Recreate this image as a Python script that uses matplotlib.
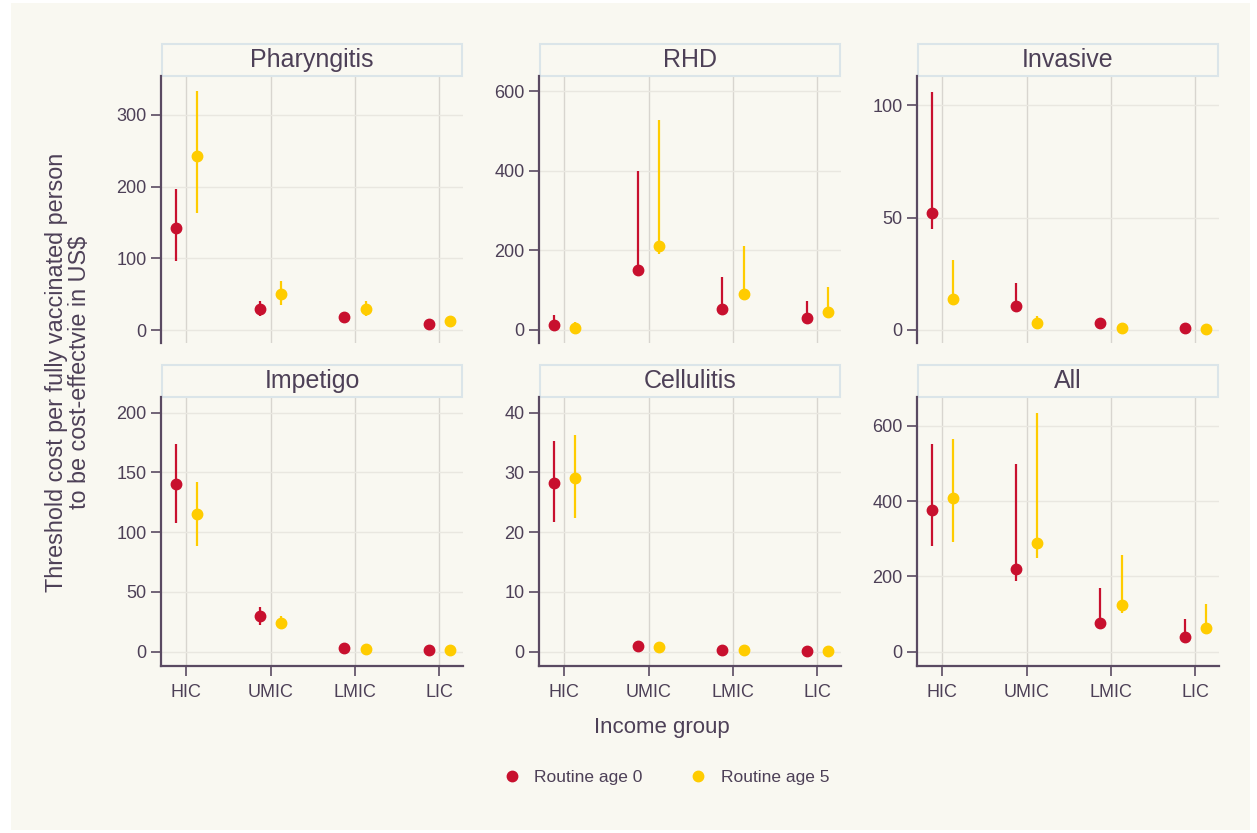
import numpy as np
import matplotlib
matplotlib.use("Agg")
import matplotlib.pyplot as plt
from matplotlib.patches import Rectangle
from matplotlib.lines import Line2D

plt.rcParams["font.family"] = ["Liberation Sans", "DejaVu Sans"]

# --- data ---
GROUPS = ["HIC", "UMIC", "LMIC", "LIC"]
PANELS = ["Pharyngitis", "RHD", "Invasive", "Impetigo", "Cellulitis", "All"]

# routine age 0: point, low, high
age0_mid = {
    "Pharyngitis": [142, 29, 18, 8],
    "RHD":         [12, 150, 53, 30],
    "Invasive":    [52, 10.5, 3, 1],
    "Impetigo":    [140, 30, 3, 1],
    "Cellulitis":  [28.2, 0.9, 0.3, 0.1],
    "All":         [377, 220, 76, 40],
}
age0_lo = {
    "Pharyngitis": [96, 20, 16, 7],
    "RHD":         [8, 148, 51, 28],
    "Invasive":    [45, 10, 2.5, 0.8],
    "Impetigo":    [108, 22, 2.5, 0.8],
    "Cellulitis":  [21.7, 0.8, 0.25, 0.08],
    "All":         [282, 188, 74, 38],
}
age0_hi = {
    "Pharyngitis": [197, 40, 20, 9],
    "RHD":         [38, 400, 133, 73],
    "Invasive":    [106, 21, 3.5, 1.2],
    "Impetigo":    [174, 37, 3.5, 1.2],
    "Cellulitis":  [35.2, 1.0, 0.35, 0.12],
    "All":         [552, 500, 168, 88],
}
# routine age 5
age5_mid = {
    "Pharyngitis": [243, 50, 30, 13],
    "RHD":         [5, 210, 90, 46],
    "Invasive":    [14, 3, 0.8, 0.3],
    "Impetigo":    [115, 24, 2.5, 1],
    "Cellulitis":  [29, 0.8, 0.3, 0.1],
    "All":         [408, 288, 123, 62],
}
age5_lo = {
    "Pharyngitis": [163, 35, 20, 11],
    "RHD":         [0, 190, 88, 44],
    "Invasive":    [13.5, 2.8, 0.6, 0.2],
    "Impetigo":    [88, 19, 2, 0.8],
    "Cellulitis":  [22.3, 0.7, 0.25, 0.08],
    "All":         [292, 248, 103, 60],
}
age5_hi = {
    "Pharyngitis": [333, 68, 40, 15],
    "RHD":         [20, 528, 212, 107],
    "Invasive":    [31, 6, 1, 0.4],
    "Impetigo":    [142, 30, 3, 1.2],
    "Cellulitis":  [36.2, 0.9, 0.35, 0.12],
    "All":         [565, 635, 258, 128],
}

YLIMS = {"Pharyngitis": (-18, 354), "RHD": (-33, 638), "Invasive": (-5.8, 113),
         "Impetigo": (-12, 213), "Cellulitis": (-2.4, 42.6), "All": (-38, 677)}
YTICKS = {"Pharyngitis": [0, 100, 200, 300], "RHD": [0, 200, 400, 600],
          "Invasive": [0, 50, 100], "Impetigo": [0, 50, 100, 150, 200],
          "Cellulitis": [0, 10, 20, 30, 40], "All": [0, 200, 400, 600]}

RED = "#c8102e"
YEL = "#ffcc00"
TXT = "#4d4057"
SPINE = "#5a4a62"
BG = "#f9f8f1"

W, H = 1257, 833
fig = plt.figure(figsize=(W / 100, H / 100), dpi=100, facecolor="white")
fig.patches.append(Rectangle((11 / W, 3 / H), 1239 / W, 827 / H,
                             transform=fig.transFigure, facecolor=BG,
                             edgecolor="none", zorder=-10))

col_left = [161, 539, 917]
row_top = [76, 397]
row_bot = [343, 666]
ax_w = 302

for i, name in enumerate(PANELS):
    r, c = divmod(i, 3)
    l = col_left[c] / W
    b = (H - row_bot[r]) / H
    h = (row_bot[r] - row_top[r]) / H
    ax = fig.add_axes([l, b, ax_w / W, h])
    ax.set_facecolor(BG)
    x = np.arange(1, 5)
    for xs, mid, lo, hi, col in [(x - 0.125, age0_mid, age0_lo, age0_hi, RED),
                                 (x + 0.125, age5_mid, age5_lo, age5_hi, YEL)]:
        m = np.array(mid[name]); lo_ = np.array(lo[name]); hi_ = np.array(hi[name])
        ax.vlines(xs, lo_, hi_, color=col, lw=1.6, zorder=3)
        ax.plot(xs, m, "o", color=col, ms=7.5, zorder=4)
    ax.set_xlim(0.7, 4.28)
    ax.set_ylim(*YLIMS[name])
    ax.set_yticks(YTICKS[name])
    ax.set_xticks(x)
    ax.grid(axis="y", color="#e9e7e0", lw=1.0)
    ax.grid(axis="x", color="#d8d5cf", lw=1.0)
    ax.set_axisbelow(True)
    for s in ["top", "right"]:
        ax.spines[s].set_visible(False)
    ax.spines["left"].set_color(SPINE)
    ax.spines["left"].set_linewidth(1.6)
    ax.tick_params(axis="y", colors=SPINE, labelcolor=TXT, labelsize=13,
                   length=7, width=1.2)
    if r == 0:
        ax.spines["bottom"].set_visible(False)
        ax.tick_params(axis="x", length=0, labelbottom=False)
    else:
        ax.spines["bottom"].set_color(SPINE)
        ax.spines["bottom"].set_linewidth(1.6)
        ax.set_xticklabels(GROUPS)
        ax.tick_params(axis="x", colors=SPINE, labelcolor=TXT, labelsize=13,
                       length=7, width=1.2, pad=6)
    # strip header
    sh = 32 / (row_bot[r] - row_top[r])
    ax.add_patch(Rectangle((0.003, 1.0), 0.994, sh, transform=ax.transAxes,
                           facecolor=BG, edgecolor="#dbe5e9", lw=1.5,
                           clip_on=False))
    ax.text(0.5, 1.0 + sh / 2, name, transform=ax.transAxes, ha="center",
            va="center", fontsize=18, color=TXT)

fig.text(68 / W, 1 - 372 / H,
         "Threshold cost per fully vaccinated person\nto be cost-effectvie in US$",
         rotation=90, ha="center", va="center", fontsize=16.8, color=TXT,
         linespacing=1.0)
fig.text(662 / W, 1 - 728 / H, "Income group", ha="center", va="center",
         fontsize=16, color=TXT)

handles = [Line2D([], [], ls="none", marker="o", color=RED, ms=7.5),
           Line2D([], [], ls="none", marker="o", color=YEL, ms=7.5)]
fig.legend(handles, ["Routine age 0", "Routine age 5"], loc="center",
           bbox_to_anchor=(662 / W, 1 - 777 / H), ncol=2, frameon=False,
           fontsize=12.5, labelcolor=TXT, columnspacing=2.2, handletextpad=0.3)

fig.savefig("out.png", dpi=100, facecolor=fig.get_facecolor())
